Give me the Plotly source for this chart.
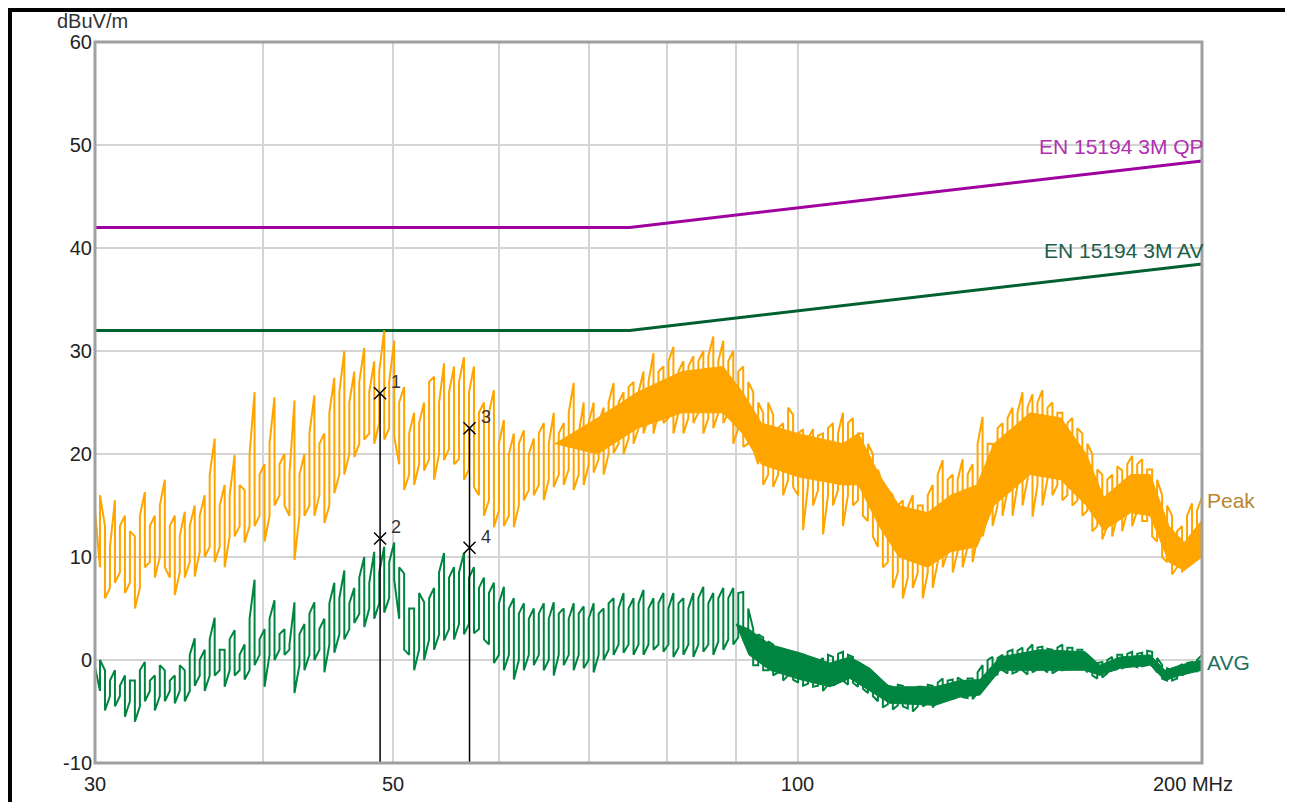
import numpy as np
import plotly.graph_objects as go

# ---------------- data ----------------
F_START, F_STOP, N_SWEEP = 30.0, 200.0, 223   # sweep grid (MHz, log spaced)

PEAK_HI = [18.5, 16, 13, 11, 15.5, 13, 14, 12.5, 12, 14,
           16.3, 13, 14, 15, 17.5, 13, 14, 12, 14.4, 13,
           15, 14, 16, 18, 21.5, 15, 17, 16, 19.9, 17,
           16.5, 20, 26, 18, 19, 21, 25.5, 19, 20, 18,
           25.2, 18, 20, 22, 25.7, 21, 22, 24, 27.4, 26,
           30, 25, 28, 27, 30.3, 26, 29, 28, 32, 27,
           31, 25, 26.5, 22, 24, 23, 25, 27, 27.5, 25,
           28.8, 26, 28.5, 27, 29.4, 26, 28.5, 24, 25, 24,
           26.2, 21, 23.3, 20, 22, 21, 22.3, 20, 21.5, 22,
           23, 21, 24, 22, 23, 24, 26.9, 22, 25, 23,
           25, 23, 24.5, 25, 26.9, 25, 26, 26.5, 27, 26,
           28, 27, 29.8, 28, 28.5, 29, 30.4, 28, 29, 28.5,
           29.5, 29, 30, 29.5, 31.4, 29, 31, 29, 30, 28,
           28.5, 27, 26, 25, 24, 25, 23.8, 22.5, 23, 24.5,
           23.8, 22, 22.4, 21.5, 22.4, 21.8, 22, 22.5, 23, 22,
           24, 23, 23.5, 22, 22, 21, 20, 18.5, 17, 16.5,
           16, 15, 15.5, 14.8, 16, 15, 15, 16, 17, 18,
           19.4, 17.5, 18, 17.5, 19.5, 18, 19, 21, 23.6, 21,
           21, 22.5, 23, 23.5, 24.5, 24, 26, 24.5, 25.8, 25,
           26.2, 24.5, 25, 24, 24, 23, 23.5, 22.5, 22, 21,
           20, 18.5, 18, 17.5, 18, 18.8, 18.4, 19, 19.8, 19,
           19.5, 18.5, 18.5, 17.5, 16, 15, 14, 12.5, 13, 14,
           15.2, 14.5, 15.8]
PEAK_LO = [14.5, 9, 6, 7, 7.5, 8.5, 6.5, 7.5, 5, 7,
           9, 9.5, 8, 10, 9, 8, 6.3, 8.5, 8, 9.5,
           8.1, 10.5, 10, 11, 9.5, 11, 9, 12, 12, 13,
           11.4, 13, 13, 14, 11.5, 14, 15, 16, 15, 14,
           9.7, 14, 14, 15, 14, 16, 13.3, 15, 16.2, 18,
           18, 20, 19.7, 21, 21.4, 22, 21, 23, 21.4, 22.5,
           21.7, 19, 16.5, 18, 17, 19, 18.4, 19.5, 17.5, 20,
           19.4, 20.5, 19, 19.5, 17.5, 18.5, 16.8, 16, 14, 15.5,
           12.9, 14.5, 13, 14, 12.9, 15, 15.5, 16.5, 16, 17,
           15.5, 17.5, 16.8, 18, 17, 18.5, 16.5, 18, 17, 19,
           18.2, 19.5, 18, 20, 20.1, 21, 20, 21.5, 21, 22.5,
           22, 23.5, 22, 24, 23, 23.5, 22, 24, 22, 23.5,
           23, 24, 22, 23.5, 22.5, 24, 23, 24, 21, 22.5,
           20.7, 21, 20.5, 19, 17, 18, 16.8, 18, 16, 17.5,
           16.8, 16, 12.6, 17, 15, 16.5, 12.2, 16, 15, 16.5,
           13, 16, 15, 15.5, 14, 13.5, 12, 11, 9, 9.5,
           7, 8.5, 6, 8, 7, 8.5, 6, 8.5, 7, 9.5,
           9, 10.5, 8.5, 10.5, 9, 11, 9.5, 12, 12, 14,
           13, 15, 14, 16.5, 14, 17, 15, 17.5, 13.9, 17,
           15, 17.5, 16, 17, 15.5, 16, 15, 15.5, 14, 14.5,
           12.5, 13, 11.7, 13, 12, 14, 12.5, 14.5, 13, 14.5,
           13.5, 13.5, 12, 11.5, 10, 9.5, 8.3, 9, 8.5, 10,
           10, 10.5, 10]

AVG_HI = [1.7, 0, -1, -2, -1, -2.5, -1.5, -2, -2, -1,
          -0.2, -2, -1.5, -0.5, -1, -2, -1.5, -0.5, -1, 0.5,
          2.1, 0, 1, 2, 4.1, 1, 1, 2, 2.9, 0.5,
          1.5, 4, 7.8, 2, 3, 4, 5.8, 2.5, 3, 1.5,
          5.6, 2.5, 3.5, 4.5, 5.6, 3, 4, 5.5, 7.5, 6,
          8.7, 5.5, 7, 8, 10, 7.5, 10.5, 8.5, 11, 9.5,
          11.4, 9, 8.4, 5, 5, 6.5, 5.6, 6, 7, 8.5,
          10.4, 8, 9, 8.5, 10.4, 8, 9, 7, 8, 6.5,
          7.5, 5.5, 7.1, 5, 6, 4.5, 5.5, 4, 5, 4.5,
          5.5, 4, 5.6, 4.5, 5, 4, 5.5, 4.5, 5.2, 4,
          5.5, 4.5, 5, 5.5, 6, 5, 6.5, 5, 6, 5.5,
          6.8, 5, 6, 5.5, 6.5, 5, 6.5, 5.5, 6, 5,
          6.5, 6, 7.1, 5.5, 6.5, 6, 7, 6, 7, 6.5,
          6.6, 5, 3, 2.5, 2.2, 1.8, 1.5, 1.2, 1, 0.8,
          0.7, 0.3, 0.5, 0.2, 0, -0.2, 0.2, 0.5, 0.3, 0.6,
          0.8, 0.5, 0.3, -0.2, -0.5, -1, -1.5, -2, -2.2, -2.5,
          -2.6, -2.4, -2.5, -2.7, -2.8, -2.6, -2.6, -2.4, -2.5, -2.2,
          -1.8, -2, -1.9, -1.7, -2, -1.8, -1.8, -1.2, -0.5, 0,
          0.3, 0.2, 0.5, 0.8, 1, 0.9, 1.2, 1, 1.5, 1.2,
          1.3, 1.1, 1, 1.2, 1.5, 1.2, 1.2, 1, 1, 0.5,
          0, -0.3, -0.2, 0, 0.3, 0.5, 0.5, 0.6, 0.8, 0.6,
          0.7, 0.9, 0.8, 0.2, -0.5, -0.8, -1, -0.8, -0.4, -0.3,
          -0.2, 0, 0.5]
AVG_LO = [-0.7, -3, -4.9, -3.5, -4.5, -3.5, -5.5, -4, -6, -4.5,
          -4, -3, -4.9, -3.5, -4, -3, -4.2, -3, -4, -3,
          -2.5, -1.5, -3, -1.5, -1.5, -1, -2.6, -1, -1.5, -1,
          -1.9, -1, -0.5, 0.5, -2.6, 0.5, 0, 1, 0.5, 1,
          -3.2, -0.5, -1, 0.5, 0, 1, -1.2, 1.5, 0.7, 2.5,
          2, 3, 3.6, 4.5, 3.2, 5, 4, 5.5, 4.6, 6,
          7.8, 4, 1, 0.5, -1, 1, 0, 2, 1, 2.5,
          1.9, 3, 2, 3.5, 2.5, 3.5, 2.6, 3, 2, 1.5,
          -0.3, 0.5, -1, 0.5, -1.9, 0, -1, 0.5, -0.5, 0.5,
          -1, 0, -1.5, 0.5, -0.5, 0.5, -1, 0.5, -0.8, 0,
          -1.2, 0.5, 0, 1, 0.5, 1.5, 0.7, 1.5, 0.5, 1.5,
          0.5, 1.5, 1, 1.5, 0.8, 1.5, 0.3, 1.2, 0.5, 1.5,
          0.3, 1.5, 0.8, 1.5, 0.5, 1.8, 1, 2, 1.5, 2.2,
          2, 1, -0.5, -0.5, -1, -1, -1.5, -1.2, -2, -1.5,
          -1.9, -2.2, -2.5, -2.3, -2.6, -2.5, -3, -2.4, -2.5, -2.2,
          -2, -2.4, -2.2, -2.6, -2.8, -3.2, -3.5, -4, -4.6, -4.3,
          -4.8, -4.4, -4.5, -4.7, -5, -4.5, -4.5, -4.2, -4.6, -4,
          -3.6, -3.9, -3.8, -3.5, -3.6, -3.7, -3.8, -3.2, -2.5, -2,
          -1.5, -1.4, -1, -1.3, -1.3, -1.1, -1, -1.4, -1.2, -0.9,
          -0.8, -1.2, -1.3, -1, -1, -0.9, -0.8, -0.7, -0.5, -1.2,
          -1.5, -1.8, -1.7, -1.3, -1, -0.9, -0.8, -0.6, -0.5, -0.7,
          -0.6, -0.5, -0.5, -1.2, -1.8, -2, -2, -1.8, -1.5, -1.2,
          -1, -1.1, -1]

# dense core of the Peak trace
PEAK_CORE_F = [66, 71, 76, 82, 88, 91, 94, 100, 108, 111, 115, 119, 125,
               130, 136, 140, 149, 157, 164, 169, 177, 183, 189, 194, 200]
PEAK_CORE_UP = [21, 23.5, 26, 28, 28.5, 26, 23, 22, 21, 22, 18, 15, 14.3,
                16, 17, 21, 24, 23.5, 20, 15.8, 18, 18, 13, 11.4, 13.6]
PEAK_CORE_LO = [21, 20, 22.5, 24, 24, 22, 19, 17.8, 17, 17, 13, 10, 9,
                10.5, 11, 15, 18, 17.5, 15, 12.6, 14.3, 14, 9.5, 8.7, 10]

# dense core of the AVG trace
AVG_CORE_F = [90, 92, 95.4, 100.4, 105.7, 109.4, 113.2, 117.1, 126.6, 132.1,
              136.7, 141.5, 151.5, 163.7, 167.9, 173.8, 183, 187.7, 192.6, 200]
AVG_CORE_UP = [3.5, 3, 1.5, 0.7, -0.3, 0.3, -0.8, -2.6, -2.6, -2, -1.9, 0.3,
               1, 0.8, -0.5, 0.3, 0.5, -1, -0.5, 0]
AVG_CORE_LO = [3.5, 0.5, -1, -1.9, -2.6, -1.8, -3, -4.2, -4.4, -3.6, -3.4, -1,
               -1, -1, -1.5, -0.8, -0.5, -2, -1.5, -1]

# limits
LIMIT_F = [30, 75, 200]
QP_LIMIT = [42, 42, 48.45]
AV_LIMIT = [32, 32, 38.45]

# markers
MARK_ID = ["1", "2", "3", "4"]
MARK_F = [48.9, 48.9, 57.0, 57.0]
MARK_V = [25.9, 11.8, 22.5, 10.9]

X_TICKS = [30, 40, 50, 60, 70, 80, 90, 100, 200]
X_TEXT = ["30", "", "50", "", "", "", "", "100", ""]
X_UNIT_LABEL = "200 MHz"
Y_TICKS = [-10, 0, 10, 20, 30, 40, 50, 60]
Y_TEXT = ["-10", "0", "10", "20", "30", "40", "50", "60"]

# ---------------- figure ----------------
ORANGE = "#FFA500"
GREEN = "#008540"
QP_COL = "#A000A0"
AV_COL = "#006030"
FONT = "Arial, Liberation Sans, sans-serif"

freq = np.geomspace(F_START, F_STOP, N_SWEEP)


def zigzag(hi, lo):
    xs, ys = [], []
    for i, (f, h, l) in enumerate(zip(freq, hi, lo)):
        xs += [f, f]
        ys += [h, l] if i % 2 == 0 else [l, h]
    return xs, ys


def band(f, up, lo):
    return list(f) + list(f)[::-1], list(up) + list(lo)[::-1]


fig = go.Figure()

fig.add_trace(go.Scatter(x=LIMIT_F, y=QP_LIMIT, mode="lines",
                         line=dict(color=QP_COL, width=3), hoverinfo="skip"))
fig.add_trace(go.Scatter(x=LIMIT_F, y=AV_LIMIT, mode="lines",
                         line=dict(color=AV_COL, width=3), hoverinfo="skip"))

bx, by = band(PEAK_CORE_F, PEAK_CORE_UP, PEAK_CORE_LO)
fig.add_trace(go.Scatter(x=bx, y=by, mode="lines", fill="toself",
                         fillcolor=ORANGE, line=dict(color=ORANGE, width=1)))
px, py = zigzag(PEAK_HI, PEAK_LO)
fig.add_trace(go.Scatter(x=px, y=py, mode="lines",
                         line=dict(color=ORANGE, width=2)))

bx, by = band(AVG_CORE_F, AVG_CORE_UP, AVG_CORE_LO)
fig.add_trace(go.Scatter(x=bx, y=by, mode="lines", fill="toself",
                         fillcolor=GREEN, line=dict(color=GREEN, width=1)))
ax_, ay_ = zigzag(AVG_HI, AVG_LO)
fig.add_trace(go.Scatter(x=ax_, y=ay_, mode="lines",
                         line=dict(color=GREEN, width=2)))

# marker drop lines
for f, v in [(MARK_F[0], MARK_V[0]), (MARK_F[2], MARK_V[2])]:
    fig.add_trace(go.Scatter(x=[f, f], y=[v, -10], mode="lines",
                             line=dict(color="black", width=1.5)))
fig.add_trace(go.Scatter(x=MARK_F, y=MARK_V, mode="markers",
                         marker=dict(symbol="x-thin", size=12,
                                     line=dict(color="black", width=1.5))))

annos = []
for mid, f, v in zip(MARK_ID, MARK_F, MARK_V):
    annos.append(dict(x=np.log10(f), y=v, text=mid, showarrow=False,
                      xanchor="left", yanchor="middle", xshift=9, yshift=11,
                      font=dict(family=FONT, size=18, color="#333")))

annos += [
    dict(x=np.log10(200), y=49.9, text="EN 15194 3M QP", showarrow=False,
         xanchor="right", yanchor="middle", xshift=4,
         font=dict(family=FONT, size=21, color="#B030B0")),
    dict(x=np.log10(200), y=39.8, text="EN 15194 3M AV", showarrow=False,
         xanchor="right", yanchor="middle", xshift=4,
         font=dict(family=FONT, size=21, color="#1E6048")),
    dict(x=np.log10(200), y=15.5, text="Peak", showarrow=False,
         xanchor="left", yanchor="middle", xshift=3,
         font=dict(family=FONT, size=21, color="#B8862E")),
    dict(x=np.log10(200), y=-0.2, text="AVG", showarrow=False,
         xanchor="left", yanchor="middle", xshift=3,
         font=dict(family=FONT, size=21, color="#1E7060")),
    dict(x=-0.036, y=1.0472, xref="paper", yref="paper", text="dBuV/m",
         showarrow=False, xanchor="left", yanchor="top",
         font=dict(family=FONT, size=20, color="#333")),
    dict(x=np.log10(200), y=0, yref="paper", text=X_UNIT_LABEL,
         showarrow=False, xanchor="center", yanchor="middle",
         xshift=-9, yshift=-21,
         font=dict(family=FONT, size=20, color="#222")),
]

fig.update_layout(
    width=1285, height=794,
    margin=dict(l=87, r=91, t=34, b=39, pad=0, autoexpand=False),
    paper_bgcolor="white", plot_bgcolor="white",
    showlegend=False,
    font=dict(family=FONT, size=20, color="#222"),
    annotations=annos,
    shapes=[
        dict(type="rect", xref="paper", yref="paper", x0=0, x1=1, y0=0, y1=1,
             line=dict(color="#A0A0A0", width=3), layer="above"),
        dict(type="path", xref="paper", yref="paper",
             path="M -0.0768 -0.1 L -0.0768 1.0444 L 1.0777 1.0444 L 1.0777 -0.1",
             line=dict(color="black", width=4)),
        dict(type="line", xref="paper", yref="paper",
             x0=1.0777, x1=1.0777, y0=-0.1, y1=1.0444,
             line=dict(color="black", width=6)),
    ],
)
fig.update_xaxes(type="log", range=[np.log10(30), np.log10(200)],
                 tickvals=X_TICKS, ticktext=X_TEXT, showgrid=True,
                 gridcolor="#D4D4D4", gridwidth=2, zeroline=False,
                 showline=False, ticks="", ticklabelstandoff=7,
                 automargin=False,
                 tickfont=dict(size=20, color="#222"))
fig.update_yaxes(range=[-10, 60], tickvals=Y_TICKS, ticktext=Y_TEXT,
                 showgrid=True, automargin=False,
                 gridcolor="#D4D4D4", gridwidth=2, zeroline=False,
                 showline=False, ticks="", ticklabelstandoff=2,
                 tickfont=dict(size=20, color="#222"))

fig.write_html("out.html")
